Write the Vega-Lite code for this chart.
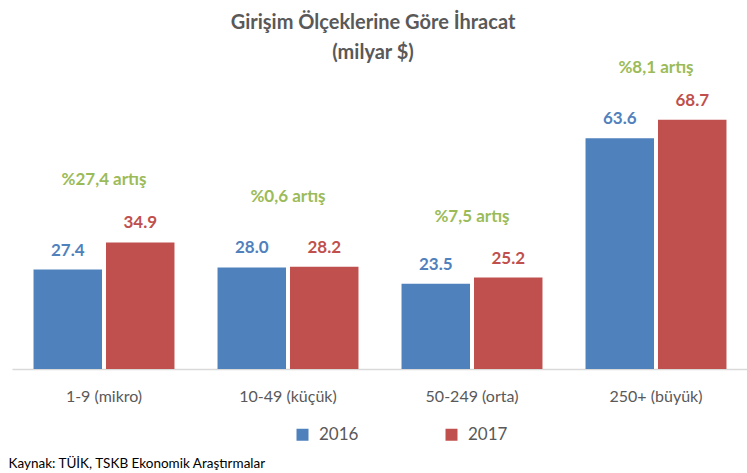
{
  "$schema": "https://vega.github.io/schema/vega-lite/v6.json",
  "autosize": "none",
  "width": 736,
  "height": 312,
  "padding": {"left": 12, "top": 57, "right": 0, "bottom": 104},
  "background": "white",
  "title": {
    "text": ["Girişim Ölçeklerine Göre İhracat", "(milyar $)"],
    "font": "Lato",
    "fontSize": 20,
    "fontWeight": "bold",
    "color": "#595959",
    "lineHeight": 30,
    "offset": -6,
    "dx": -7
  },
  "config": {
    "view": {"stroke": null},
    "font": "Lato"
  },
  "datasets": {
    "bars": [
      {"grup": "1-9 (mikro)", "yil": "2016", "deger": 27.4},
      {"grup": "1-9 (mikro)", "yil": "2017", "deger": 34.9},
      {"grup": "10-49 (küçük)", "yil": "2016", "deger": 28.0},
      {"grup": "10-49 (küçük)", "yil": "2017", "deger": 28.2},
      {"grup": "50-249 (orta)", "yil": "2016", "deger": 23.5},
      {"grup": "50-249 (orta)", "yil": "2017", "deger": 25.2},
      {"grup": "250+ (büyük)", "yil": "2016", "deger": 63.6},
      {"grup": "250+ (büyük)", "yil": "2017", "deger": 68.7}
    ],
    "notes": [
      {"grup": "1-9 (mikro)", "metin": "%27,4 artış", "konum": 52.1},
      {"grup": "10-49 (küçük)", "metin": "%0,6 artış", "konum": 47.4},
      {"grup": "50-249 (orta)", "metin": "%7,5 artış", "konum": 41.9},
      {"grup": "250+ (büyük)", "metin": "%8,1 artış", "konum": 83.0}
    ]
  },
  "layer": [
    {
      "data": {"name": "bars"},
      "mark": {"type": "bar"},
      "encoding": {
        "x": {
          "field": "grup", "type": "nominal", "sort": null,
          "scale": {"paddingInner": 0.234, "paddingOuter": 0.117},
          "axis": {
            "title": "Kaynak: TÜİK, TSKB Ekonomik Araştırmalar",
            "titleFont": "Lato", "titleFontSize": 13.5, "titleFontWeight": "normal",
            "titleColor": "#000000", "titleAnchor": "start", "titleAlign": "left",
            "titleX": -4, "titleY": 94, "titleBaseline": "middle",
            "labelAngle": 0, "labelFontSize": 16, "labelColor": "#595959",
            "labelPadding": 19, "ticks": false, "domainColor": "#D9D9D9", "domainWidth": 1.5,
            "labelFont": "Lato"
          }
        },
        "xOffset": {"field": "yil", "type": "nominal", "scale": {"paddingInner": 0.055}},
        "y": {
          "field": "deger", "type": "quantitative",
          "scale": {"domain": [0, 86], "nice": false, "zero": true},
          "axis": null
        },
        "color": {
          "field": "yil", "type": "nominal",
          "scale": {"domain": ["2016", "2017"], "range": ["#4F81BD", "#C0504D"]},
          "legend": {
            "title": null, "orient": "none", "direction": "horizontal",
            "legendX": 282, "legendY": 369,
            "symbolType": "square", "symbolSize": 144, "symbolStrokeWidth": 0,
            "labelFontSize": 17, "labelColor": "#595959", "labelFont": "Lato",
            "columnPadding": 84, "labelOffset": 8
          }
        }
      }
    },
    {
      "data": {"name": "bars"},
      "mark": {"type": "text", "fontSize": 17, "fontWeight": "bold", "baseline": "bottom", "dy": -10, "font": "Lato"},
      "encoding": {
        "x": {"field": "grup", "type": "nominal", "sort": null},
        "xOffset": {"field": "yil", "type": "nominal"},
        "y": {"field": "deger", "type": "quantitative"},
        "text": {"field": "deger", "type": "quantitative", "format": ".1f"},
        "color": {"field": "yil", "type": "nominal"}
      }
    },
    {
      "data": {"name": "notes"},
      "mark": {"type": "text", "fontSize": 17, "fontWeight": "bold", "color": "#9BBB59", "baseline": "middle", "font": "Lato"},
      "encoding": {
        "x": {"field": "grup", "type": "nominal", "sort": null},
        "y": {"field": "konum", "type": "quantitative"},
        "text": {"field": "metin", "type": "nominal"}
      }
    }
  ]
}
